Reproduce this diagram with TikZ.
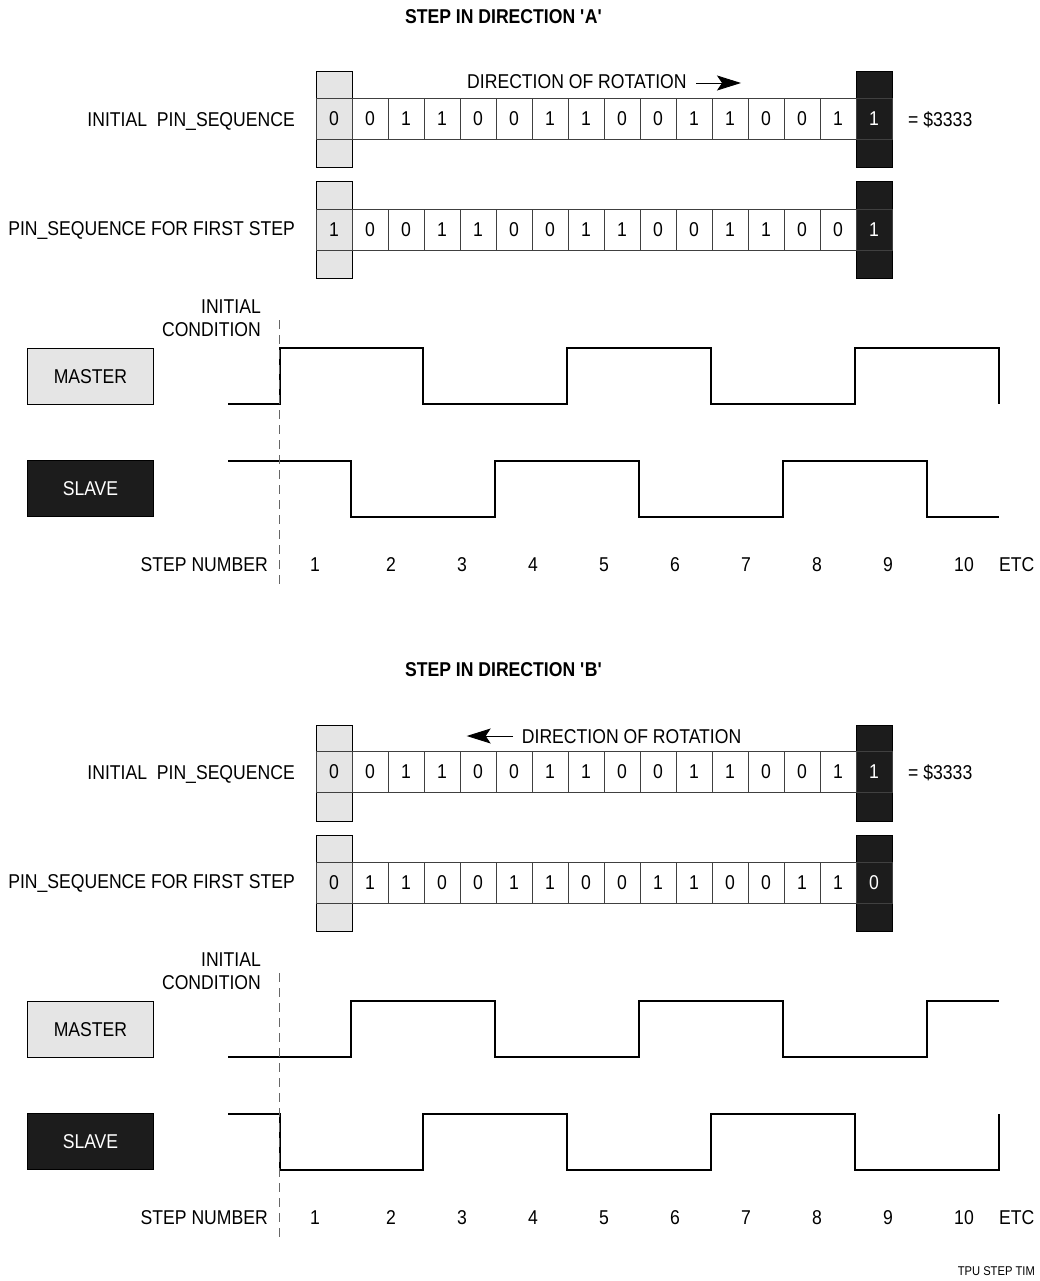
\documentclass[tikz,border=0pt]{standalone}
\usepackage{fontspec}
\setmainfont{Liberation Sans}
\newfontfamily\diagfont[FakeStretch=0.88]{Liberation Sans}
\usetikzlibrary{arrows.meta}
\definecolor{pingray}{HTML}{E5E5E5}
\definecolor{pinblack}{HTML}{1C1C1C}
\tikzset{
  lbl/.style={font=\diagfont\fontsize{20}{24}\selectfont, inner sep=0pt},
  ttl/.style={font=\diagfont\bfseries\fontsize{20}{24}\selectfont, inner sep=0pt},
  small/.style={font=\diagfont\fontsize{12.7}{15}\selectfont, inner sep=0pt},
  cell/.style={lbl, draw=black!75, line width=0.9pt, minimum width=36pt, minimum height=41pt, inner sep=0pt},
  tallcell/.style={draw=black, line width=1pt, minimum width=36pt, minimum height=96pt, inner sep=0pt},
  sigbox/.style={lbl, draw=black, line width=1pt, minimum width=126pt, minimum height=56pt, inner sep=0pt},
  wave/.style={line width=1.8pt, line join=miter},
  rot/.style={line width=0.9pt, -{Stealth[length=24pt, width=15pt, inset=5pt]}},
  icline/.style={draw=black!60, line width=0.9pt, dash pattern=on 9pt off 6pt},
}
\begin{document}
\begin{tikzpicture}[x=1pt, y=-1pt]
\useasboundingbox (0,0) rectangle (1040,1281);
% direction A
\node[ttl, anchor=base] (ttlA) at (503.7,23.5) {STEP IN DIRECTION \textquotesingle A\textquotesingle};
\node[lbl, anchor=base west] (dirA) at (467,89) {DIRECTION OF ROTATION};
\coordinate (rotA0) at (696,83);
\coordinate (rotA1) at (741,83);
\draw[rot] (rotA0) -- (rotA1);
% pin sequences
\node[tallcell, fill=pingray] (fa1) at (334,120) {};
\node[tallcell, fill=pinblack] (la1) at (874,120) {};
\node[tallcell, fill=pingray] (fa2) at (334,230) {};
\node[tallcell, fill=pinblack] (la2) at (874,230) {};
\foreach \b [count=\i] in {0,0,1,1,0,0,1,1,0,0,1,1,0,0,1,1}{
  \ifnum\i=16 \def\bitcol{white}\else\def\bitcol{black}\fi
  \node[cell, text=\bitcol] (pa\i) at ({334+36*(\i-1)},119) {\b};
}
\foreach \b [count=\i] in {1,0,0,1,1,0,0,1,1,0,0,1,1,0,0,1}{
  \ifnum\i=16 \def\bitcol{white}\else\def\bitcol{black}\fi
  \node[cell, text=\bitcol] (qa\i) at ({334+36*(\i-1)},229.7) {\b};
}
\node[lbl, anchor=base east] (ipsA) at (295,126.5) {INITIAL\ \ PIN\_SEQUENCE};
\node[lbl, anchor=base west] (hexA) at (908,126.5) {= \$3333};
\node[lbl, anchor=base east] (fpsA) at (295,235.7) {PIN\_SEQUENCE FOR FIRST STEP};
% waveforms
\node[lbl, anchor=base east] (initA) at (261,313.3) {INITIAL};
\node[lbl, anchor=base east] (condA) at (261,336.7) {CONDITION};
\node[sigbox, fill=pingray] (mstA) at (90.5,376.3) {MASTER};
\node[sigbox, fill=pinblack, text=white] (slvA) at (90.5,488.5) {SLAVE};
\draw[wave] (228,404) -| (280,348) -| (423,404) -| (567,348) -| (711,404) -| (855,348) -| (999,404);
\draw[wave] (228,461) -| (351,517) -| (495,461) -| (639,517) -| (783,461) -| (927,517) -- (999,517);
\coordinate (icA0) at (279,320);
\coordinate (icA1) at (279,588);
\draw[icline] (icA0) -- (icA1);
\node[lbl, anchor=base east] (snA) at (268,571) {STEP NUMBER};
\foreach \n/\x in {1/315,2/391,3/462,4/533,5/604,6/675,7/746,8/817,9/888,10/964}
  \node[lbl, anchor=base] (sa\n) at (\x,571) {\n};
\node[lbl, anchor=base] (etcA) at (1016.7,571) {ETC};
% direction B
\begin{scope}[yshift=-653pt]
\node[ttl, anchor=base] (ttlB) at (503.7,23.5) {STEP IN DIRECTION \textquotesingle B\textquotesingle};
\node[lbl, anchor=base west] (dirB) at (521.7,90) {DIRECTION OF ROTATION};
\coordinate (rotB0) at (513,83);
\coordinate (rotB1) at (466.7,83);
\draw[rot] (rotB0) -- (rotB1);
\node[tallcell, fill=pingray] (fb1) at (334,120) {};
\node[tallcell, fill=pinblack] (lb1) at (874,120) {};
\node[tallcell, fill=pingray] (fb2) at (334,230) {};
\node[tallcell, fill=pinblack] (lb2) at (874,230) {};
\foreach \b [count=\i] in {0,0,1,1,0,0,1,1,0,0,1,1,0,0,1,1}{
  \ifnum\i=16 \def\bitcol{white}\else\def\bitcol{black}\fi
  \node[cell, text=\bitcol] (pb\i) at ({334+36*(\i-1)},119) {\b};
}
\foreach \b [count=\i] in {0,1,1,0,0,1,1,0,0,1,1,0,0,1,1,0}{
  \ifnum\i=16 \def\bitcol{white}\else\def\bitcol{black}\fi
  \node[cell, text=\bitcol] (qb\i) at ({334+36*(\i-1)},229.7) {\b};
}
\node[lbl, anchor=base east] (ipsB) at (295,126.5) {INITIAL\ \ PIN\_SEQUENCE};
\node[lbl, anchor=base west] (hexB) at (908,126.5) {= \$3333};
\node[lbl, anchor=base east] (fpsB) at (295,235.7) {PIN\_SEQUENCE FOR FIRST STEP};
\node[lbl, anchor=base east] (initB) at (261,313.3) {INITIAL};
\node[lbl, anchor=base east] (condB) at (261,336.7) {CONDITION};
\node[sigbox, fill=pingray] (mstB) at (90.5,376.3) {MASTER};
\node[sigbox, fill=pinblack, text=white] (slvB) at (90.5,488.5) {SLAVE};
\draw[wave] (228,404) -| (351,348) -| (495,404) -| (639,348) -| (783,404) -| (927,348) -- (999,348);
\draw[wave] (228,461) -| (280,517) -| (423,461) -| (567,517) -| (711,461) -| (855,517) -| (999,461);
\coordinate (icB0) at (279,320);
\coordinate (icB1) at (279,588);
\draw[icline] (icB0) -- (icB1);
\node[lbl, anchor=base east] (snB) at (268,571) {STEP NUMBER};
\foreach \n/\x in {1/315,2/391,3/462,4/533,5/604,6/675,7/746,8/817,9/888,10/964}
  \node[lbl, anchor=base] (sb\n) at (\x,571) {\n};
\node[lbl, anchor=base] (etcB) at (1016.7,571) {ETC};
\end{scope}
\node[small, anchor=base east] (tag) at (1035,1275) {TPU STEP TIM};
\end{tikzpicture}
\end{document}
